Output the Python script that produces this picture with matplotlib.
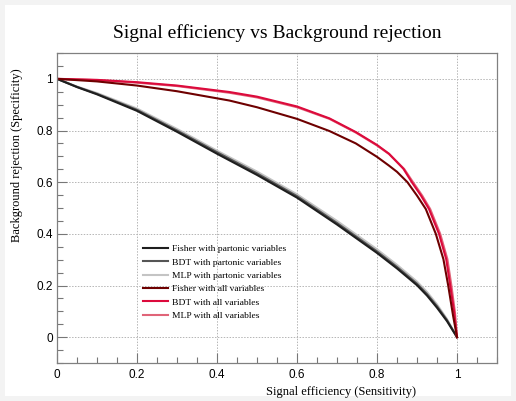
import matplotlib
matplotlib.use("Agg")
import matplotlib.pyplot as plt
from matplotlib.patches import Rectangle
from matplotlib.ticker import MultipleLocator

# ---- data ----
x_part = [0.0, 0.05, 0.1, 0.2, 0.3, 0.4, 0.5, 0.6, 0.7, 0.8, 0.85, 0.9, 0.925, 0.95, 0.975, 1.0]
fisher_part = [1.0, 0.968, 0.94, 0.876, 0.795, 0.71, 0.628, 0.54, 0.436, 0.326, 0.266, 0.201, 0.161, 0.114, 0.062, 0.0]
bdt_part = [1.0, 0.969, 0.942, 0.880, 0.800, 0.716, 0.634, 0.546, 0.442, 0.332, 0.272, 0.207, 0.167, 0.120, 0.066, 0.0]
mlp_part = [1.0, 0.970, 0.945, 0.885, 0.806, 0.722, 0.641, 0.553, 0.450, 0.340, 0.280, 0.215, 0.175, 0.127, 0.070, 0.0]

x_fisher_all = [0.0, 0.1, 0.2, 0.3, 0.431, 0.5, 0.6, 0.681, 0.747, 0.8, 0.83, 0.85, 0.876,
                0.9, 0.922, 0.947, 0.966, 0.978, 0.99, 1.0]
fisher_all = [1.0, 0.99, 0.974, 0.952, 0.916, 0.89, 0.845, 0.798, 0.75, 0.698, 0.664, 0.64, 0.60,
              0.548, 0.496, 0.40, 0.302, 0.20, 0.085, 0.0]

x_bdt_all = [0.0, 0.1, 0.2, 0.3, 0.431, 0.5, 0.6, 0.681, 0.747, 0.8, 0.83, 0.866, 0.887,
             0.91, 0.93, 0.955, 0.973, 0.983, 0.993, 1.0]
bdt_all = [1.0, 0.996, 0.987, 0.974, 0.949, 0.931, 0.893, 0.847, 0.794, 0.744, 0.710, 0.652, 0.60,
           0.548, 0.496, 0.40, 0.302, 0.20, 0.095, 0.0]

x_mlp_all = [0.0, 0.1, 0.2, 0.3, 0.431, 0.5, 0.6, 0.681, 0.747, 0.8, 0.83, 0.868, 0.89,
             0.913, 0.933, 0.958, 0.976, 0.986, 0.995, 1.0]
mlp_all = [1.0, 0.995, 0.985, 0.972, 0.946, 0.928, 0.890, 0.845, 0.792, 0.742, 0.709, 0.651, 0.60,
           0.548, 0.496, 0.40, 0.302, 0.20, 0.095, 0.0]

labels = ["Fisher with partonic variables", "BDT with partonic variables",
          "MLP with partonic variables", "Fisher with all variables",
          "BDT with all variables", "MLP with all variables"]
colors = ["#1e1e1e", "#555555", "#c4c4c4", "#6e0000", "#dc0a3c", "#e06478"]

serif = ["Liberation Serif", "DejaVu Serif"]
sans = ["Liberation Sans", "DejaVu Sans"]

fig = plt.figure(figsize=(5.16, 4.01), dpi=100)
fig.patch.set_facecolor("#f3f3f3")
fig.patches.append(Rectangle((5/516, 5/401), 506/516, 391/401, transform=fig.transFigure,
                             facecolor="white", edgecolor="none", zorder=-10))

ax = fig.add_axes([57/516, 38/401, 440/516, 310/401])
ax.set_zorder(1)
ax.set_xlim(0, 1.1)
ax.set_ylim(-0.1, 1.1)

series = [(x_part, fisher_part), (x_part, bdt_part), (x_part, mlp_part),
          (x_fisher_all, fisher_all), (x_bdt_all, bdt_all), (x_mlp_all, mlp_all)]
order = [2, 1, 0, 5, 4, 3]
handles = {}
for i in order:
    xs, ys = series[i]
    h, = ax.plot(xs, ys, color=colors[i], lw=1.5, label=labels[i],
                 solid_joinstyle="round")
    handles[i] = h

leg = ax.legend([handles[i] for i in range(6)], labels, loc="upper left",
                bbox_to_anchor=(0.186, 0.394), frameon=False,
                prop={"family": serif, "size": 6.8}, handlelength=2.7,
                handletextpad=0.4, labelspacing=0.5, borderaxespad=0)

ax.xaxis.set_minor_locator(MultipleLocator(0.05))
ax.yaxis.set_minor_locator(MultipleLocator(0.05))
ax.set_xticks([0, 0.2, 0.4, 0.6, 0.8, 1.0])
ax.set_xticklabels(["0", "0.2", "0.4", "0.6", "0.8", "1"], family=sans, fontsize=8.5)
ax.set_yticks([0, 0.2, 0.4, 0.6, 0.8, 1.0])
ax.set_yticklabels(["0", "0.2", "0.4", "0.6", "0.8", "1"], family=sans, fontsize=8.5)
ax.tick_params(which="both", direction="in", top=False, right=False, color="#777777")
ax.tick_params(which="major", length=7, width=0.8, pad=4)
ax.tick_params(which="minor", length=4.3, width=0.8)
ax.tick_params(axis="y", which="major", pad=3)
for s in ax.spines.values():
    s.set_color("#808080")
    s.set_linewidth(0.9)
ax.grid(True, which="major", linestyle=(0, (1.5, 1.5)), color="#b5b5b5", linewidth=0.7)
ax.set_axisbelow(True)

fig.text(277/516, 1 - 33/401, "Signal efficiency vs Background rejection",
         ha="center", va="center", family=serif, fontsize=14)
fig.text(416/516, 1 - 392/401, "Signal efficiency (Sensitivity)",
         ha="right", va="center", family=serif, fontsize=9)
fig.text(17/516, 1 - 68/401, "Background rejection (Specificity)",
         ha="center", va="top", rotation=90, family=serif, fontsize=9)

fig.savefig("out.png", dpi=100, facecolor=fig.get_facecolor())
